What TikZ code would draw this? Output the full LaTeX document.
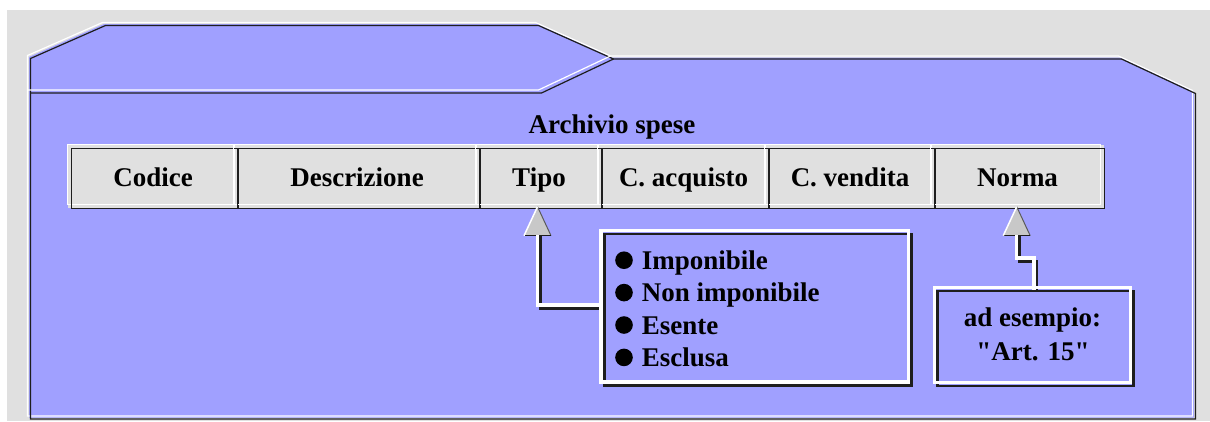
\documentclass[tikz,border=0pt]{standalone}
\usepackage{fontspec}
\setmainfont{Liberation Serif}
\newfontfamily\timesfont{Liberation Serif}
\usetikzlibrary{calc}
\definecolor{bggray}{RGB}{224,224,224}
\definecolor{folderblue}{RGB}{160,160,255}
\definecolor{cellgray}{RGB}{224,224,224}
\definecolor{headgray}{RGB}{200,200,200}
\definecolor{edgedark}{RGB}{30,30,30}
\definecolor{edgemid}{RGB}{90,90,90}
\begin{document}
\begin{tikzpicture}[x=1pt,y=-1pt,
  txt/.style={font=\timesfont\fontsize{27}{32.4}\selectfont\bfseries, inner sep=0pt},
  cellbox/.style={txt, fill=cellgray, minimum height=63pt, text height=20pt, text depth=0pt},
  hiF/.style={draw=white, line width=1.2pt, shift={(-1.5,-1.5)}},
  loF/.style={draw=edgedark, line width=1.2pt, shift={(1.5,1.5)}},
  hiC/.style={draw=white, line width=1.2pt},
  loC/.style={draw=edgedark, line width=1.2pt},
  hiB/.style={draw=white, line width=3.3pt},
  loB/.style={draw=edgedark, line width=2.5pt},
  shaftwhite/.style={draw=white, line width=3.5pt},
  shaftdark/.style={draw=edgedark, line width=3pt},
  boxshape/.style={inner sep=0pt}
]
\useasboundingbox (0,0) rectangle (1210,421);
\fill[white] (0,0) rectangle (1210,421);
\fill[bggray] (7,10) rectangle (1210,421);
% folder
\fill[folderblue] (29,57) -- (104,24) -- (537,24) -- (612,57.5) -- (1120,57.5) -- (1194,92) -- (1194,417.5) -- (29,417.5) -- cycle;
\draw[hiF] (29,57) -- (104,24) -- (537,24) -- (612,57.5) -- (1120,57.5) -- (1194,92) -- (1194,417.5) -- (29,417.5) -- cycle;
\draw[loF] (29,57) -- (104,24) -- (537,24) -- (612,57.5) -- (1120,57.5) -- (1194,92) -- (1194,417.5) -- (29,417.5) -- cycle;
\draw[hiF] (29,91.5) -- (540,91.5) -- (612,57.5);
\draw[loF] (29,91.5) -- (540,91.5) -- (612,57.5);
% title
\node[txt, anchor=base] (title) at (612,133) {Archivio spese};
% table cells
\node[cellbox, minimum width=170pt] (codice) at (153,176.5) {Codice};
\node[cellbox, minimum width=246pt] (descr) at (357,176.5) {Descrizione};
\node[cellbox, minimum width=126pt] (tipo) at (539,176.5) {Tipo};
\node[cellbox, minimum width=171pt] (cacq) at (683.5,176.5) {C. acquisto};
\node[cellbox, minimum width=170pt] (cvend) at (850,176.5) {C. vendita};
\node[cellbox, minimum width=173pt] (norma) at (1017.5,176.5) {Norma};
\foreach \n in {codice,descr,tipo,cacq,cvend,norma}{
  \draw[hiC] (\n.north west) rectangle ($(\n.south east)+(-4,-4)$);
  \draw[loC] ($(\n.north west)+(4,4)$) rectangle (\n.south east);
}
% boxes
\node[boxshape, minimum width=306.7pt, minimum height=151pt] (listbox) at (756.35,308) {};
\node[boxshape, minimum width=195.5pt, minimum height=94.5pt] (normabox) at (1033.95,336.95) {};
% connector Tipo
\coordinate (tipotip) at ($(tipo.south)+(-1.5,-1.5)$);
\coordinate (tipostart) at ($(listbox.west)+(0,-3)$);
\draw[shaftdark] ($(tipostart)+(2,3)$) -| ($(tipotip)+(3,29)$);
\fill[headgray] (tipotip) -- ++(-13.5,29) -- ++(27,0) -- cycle;
\draw[edgemid, line width=1pt] (tipotip) -- ++(13.5,29);
\draw[edgedark, line width=1.5pt] ($(tipotip)+(13.5,29)$) -- ++(-27,0);
\draw[white, line width=1.5pt] ($(tipotip)+(-13.5,29)$) -- (tipotip);
\draw[shaftwhite] (tipostart) -| ($(tipotip)+(0,28)$);
% connector Norma
\coordinate (normatip) at ($(norma.south)+(-0.8,-1.5)$);
\coordinate (normastep) at ($(normabox.north)+(0,-31.4)$);
\draw[shaftdark] ($(normabox.north)+(3,0)$) -- ($(normastep)+(3,3)$) -| ($(normatip)+(3,29)$);
\fill[headgray] (normatip) -- ++(-13.5,29) -- ++(27,0) -- cycle;
\draw[edgemid, line width=1pt] (normatip) -- ++(13.5,29);
\draw[edgedark, line width=1.5pt] ($(normatip)+(13.5,29)$) -- ++(-27,0);
\draw[white, line width=1.5pt] ($(normatip)+(-13.5,29)$) -- (normatip);
\draw[shaftwhite] (normabox.north) -- (normastep) -| ($(normatip)+(0,28)$);
% box borders
\foreach \n in {listbox,normabox}{
  \draw[loB] ($(\n.north west)+(1.7,1.7)$) rectangle ($(\n.south east)+(1.7,1.7)$);
  \draw[hiB] ($(\n.north west)+(-1.7,-1.7)$) rectangle ($(\n.south east)+(-1.7,-1.7)$);
}
% list items
\node[txt, anchor=base west] (item1) at (641.7,269.5) {Imponibile};
\node[txt, anchor=base west] (item2) at (641.7,301.9) {Non imponibile};
\node[txt, anchor=base west] (item3) at (641.7,334.3) {Esente};
\node[txt, anchor=base west] (item4) at (641.7,366.7) {Esclusa};
\foreach \n in {item1,item2,item3,item4}{
  \fill[black] ($(\n.base west)+(-17.7,-9.3)$) circle[radius=8.8pt];
}
% example text
\node[txt, anchor=base] (ex1) at (1032.5,326.7) {ad esempio:};
\node[txt, anchor=base] (ex2) at (1033,360) {\symbol{34}Art. 15\symbol{34}};
\end{tikzpicture}
\end{document}
